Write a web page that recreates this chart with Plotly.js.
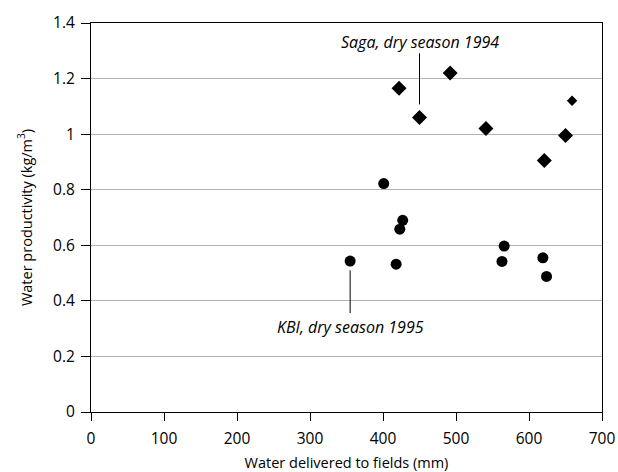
<!DOCTYPE html>
<html>
<head>
<meta charset="utf-8">
<script src="https://cdn.plot.ly/plotly-3.0.1.min.js"></script>
<style>html,body{margin:0;padding:0;background:#fff;}#chart{width:618px;height:472px;}</style>
</head>
<body>
<div id="chart"></div>
<script>
// Saga, dry season 1994 (diamonds)
const sagaX = [422, 492, 450, 541, 650, 621];
const sagaY = [1.165, 1.22, 1.06, 1.02, 0.995, 0.905];
// Saga point drawn with a smaller diamond
const sagaSmallX = [659];
const sagaSmallY = [1.12];
// KBI, dry season 1995 (circles)
const kbiX = [401, 427, 423, 418, 355, 566, 563, 619, 624];
const kbiY = [0.822, 0.69, 0.658, 0.532, 0.543, 0.597, 0.542, 0.555, 0.488];
// Callout labels and leader lines
const labelText = ["Saga, dry season 1994", "KBI, dry season 1995"];
const labelX = [450, 355];
const labelY = [1.33, 0.305];
const leaderX = [450, 355];
const leaderY0 = [1.107, 0.356];
const leaderY1 = [1.291, 0.51];
const xTicks = [0, 100, 200, 300, 400, 500, 600, 700];
const yTicks = [0, 0.2, 0.4, 0.6, 0.8, 1, 1.2, 1.4];

const font = "Open Sans, Noto Sans, sans-serif";

const traces = [
  {x: sagaX, y: sagaY, type: "scatter", mode: "markers",
   marker: {symbol: "diamond", size: 11.5, color: "#000"}, cliponaxis: false},
  {x: sagaSmallX, y: sagaSmallY, type: "scatter", mode: "markers",
   marker: {symbol: "diamond", size: 8, color: "#000"}, cliponaxis: false},
  {x: kbiX, y: kbiY, type: "scatter", mode: "markers",
   marker: {symbol: "circle", size: 11, color: "#000"}, cliponaxis: false}
];

const shapes = leaderX.map((x, i) => ({
  type: "line", xref: "x", yref: "y", x0: x, x1: x, y0: leaderY0[i], y1: leaderY1[i],
  line: {color: "#000", width: 1}
}));

const annotations = labelText.map((t, i) => ({
  x: labelX[i], y: labelY[i], xref: "x", yref: "y", text: "<i>" + t + "</i>",
  showarrow: false, xanchor: "center", yanchor: "middle",
  font: {family: font, size: 16, color: "#000"}
}));

const layout = {
  width: 618, height: 472,
  margin: {l: 91, r: 16, t: 23, b: 60},
  paper_bgcolor: "#fff", plot_bgcolor: "#fff",
  showlegend: false,
  font: {family: font, color: "#000"},
  xaxis: {
    range: [0, 700], tickvals: xTicks, ticktext: xTicks.map(String),
    showgrid: false, zeroline: false,
    showline: true, linecolor: "#000", linewidth: 1, mirror: true,
    ticks: "outside", ticklen: 8, tickcolor: "#000", tickwidth: 1,
    ticklabelstandoff: 4,
    tickfont: {family: font, size: 15.5, color: "#000"},
    title: {text: "Water delivered to fields (mm)", font: {family: font, size: 14.5, color: "#000"}, standoff: 11}
  },
  yaxis: {
    range: [0, 1.4], tickvals: yTicks, ticktext: yTicks.map(v => String(v)),
    showgrid: true, gridcolor: "#b3b3b3", gridwidth: 1, zeroline: false,
    showline: true, linecolor: "#000", linewidth: 1, mirror: true,
    ticks: "outside", ticklen: 9, tickcolor: "#000", tickwidth: 1,
    ticklabelstandoff: 3,
    tickfont: {family: font, size: 15.5, color: "#000"},
    title: {text: "Water productivity (kg/m<sup>3</sup>)", font: {family: font, size: 14.5, color: "#000"}, standoff: 17}
  },
  shapes: shapes,
  annotations: annotations
};

Plotly.newPlot("chart", traces, layout, {displayModeBar: false, staticPlot: true});
</script>
</body>
</html>
